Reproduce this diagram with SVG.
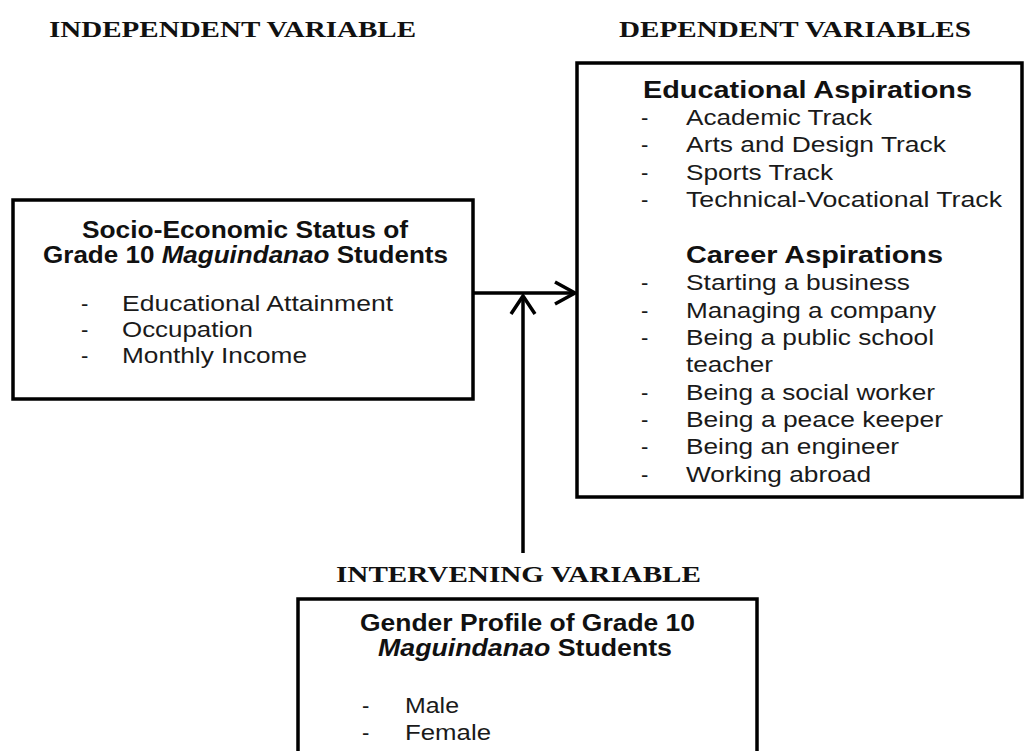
<svg xmlns="http://www.w3.org/2000/svg" width="1027" height="751" viewBox="0 0 1027 751">
<style>
.hdr{font-family:"Liberation Serif","Times New Roman",serif;font-weight:bold;font-size:24px;fill:#111}
.t{font-family:"Liberation Sans",Arial,sans-serif;font-size:22px;fill:#1a1a1a}
.b{font-family:"Liberation Sans",Arial,sans-serif;font-size:23px;font-weight:bold;fill:#111}
.box{fill:#fff;stroke:#000;stroke-width:3.5}
.ln{fill:none;stroke:#000;stroke-width:3.5}
</style>
<rect width="1027" height="751" fill="#fff"/>
<text class="hdr" x="49" y="37" textLength="367" lengthAdjust="spacingAndGlyphs">INDEPENDENT VARIABLE</text>
<text class="hdr" x="619" y="37" textLength="352" lengthAdjust="spacingAndGlyphs">DEPENDENT VARIABLES</text>
<text class="hdr" x="336" y="582" textLength="365" lengthAdjust="spacingAndGlyphs">INTERVENING VARIABLE</text>

<g id="connectors">
<line class="ln" x1="473" y1="293" x2="574" y2="293"/>
<polyline class="ln" points="555,282 575,293 555,304"/>
<line class="ln" x1="523" y1="553" x2="523" y2="298"/>
<polyline class="ln" points="511,314 523,296 535,314"/>
</g>

<g id="independent">
<rect class="box" x="13" y="200" width="460" height="199"/>
<text class="b" x="82" y="238" textLength="326" lengthAdjust="spacingAndGlyphs">Socio-Economic Status of</text>
<text class="b" x="43" y="263" textLength="405" lengthAdjust="spacingAndGlyphs">Grade 10 <tspan font-style="italic">Maguindanao</tspan> Students</text>
<text class="t" x="81" y="311">-</text>
<text class="t" x="122" y="311" textLength="271" lengthAdjust="spacingAndGlyphs">Educational Attainment</text>
<text class="t" x="81" y="337">-</text>
<text class="t" x="122" y="337" textLength="131" lengthAdjust="spacingAndGlyphs">Occupation</text>
<text class="t" x="81" y="363">-</text>
<text class="t" x="122" y="363" textLength="185" lengthAdjust="spacingAndGlyphs">Monthly Income</text>
</g>

<g id="dependent">
<rect class="box" x="577" y="63" width="445" height="434"/>
<text class="b" x="643" y="98" textLength="329" lengthAdjust="spacingAndGlyphs">Educational Aspirations</text>
<text class="t" x="641" y="125">-</text>
<text class="t" x="686" y="125" textLength="186" lengthAdjust="spacingAndGlyphs">Academic Track</text>
<text class="t" x="641" y="152">-</text>
<text class="t" x="686" y="152" textLength="260" lengthAdjust="spacingAndGlyphs">Arts and Design Track</text>
<text class="t" x="641" y="179.5">-</text>
<text class="t" x="686" y="179.5" textLength="147" lengthAdjust="spacingAndGlyphs">Sports Track</text>
<text class="t" x="641" y="207">-</text>
<text class="t" x="686" y="207" textLength="316" lengthAdjust="spacingAndGlyphs">Technical-Vocational Track</text>
<text class="b" x="686" y="263" textLength="257" lengthAdjust="spacingAndGlyphs">Career Aspirations</text>
<text class="t" x="641" y="290">-</text>
<text class="t" x="686" y="290" textLength="224" lengthAdjust="spacingAndGlyphs">Starting a business</text>
<text class="t" x="641" y="317.5">-</text>
<text class="t" x="686" y="317.5" textLength="250" lengthAdjust="spacingAndGlyphs">Managing a company</text>
<text class="t" x="641" y="345">-</text>
<text class="t" x="686" y="345" textLength="248" lengthAdjust="spacingAndGlyphs">Being a public school</text>
<text class="t" x="686" y="372" textLength="87" lengthAdjust="spacingAndGlyphs">teacher</text>
<text class="t" x="641" y="399.5">-</text>
<text class="t" x="686" y="399.5" textLength="249" lengthAdjust="spacingAndGlyphs">Being a social worker</text>
<text class="t" x="641" y="427">-</text>
<text class="t" x="686" y="427" textLength="257" lengthAdjust="spacingAndGlyphs">Being a peace keeper</text>
<text class="t" x="641" y="454">-</text>
<text class="t" x="686" y="454" textLength="213" lengthAdjust="spacingAndGlyphs">Being an engineer</text>
<text class="t" x="641" y="481.5">-</text>
<text class="t" x="686" y="481.5" textLength="185" lengthAdjust="spacingAndGlyphs">Working abroad</text>
</g>

<g id="intervening">
<rect class="box" x="298" y="599" width="459" height="170"/>
<text class="b" x="360" y="631" textLength="335" lengthAdjust="spacingAndGlyphs">Gender Profile of Grade 10</text>
<text class="b" x="378" y="656" textLength="294" lengthAdjust="spacingAndGlyphs"><tspan font-style="italic">Maguindanao</tspan> Students</text>
<text class="t" x="362" y="713">-</text>
<text class="t" x="405" y="713" textLength="54" lengthAdjust="spacingAndGlyphs">Male</text>
<text class="t" x="362" y="740">-</text>
<text class="t" x="405" y="740" textLength="86" lengthAdjust="spacingAndGlyphs">Female</text>
</g>
</svg>
